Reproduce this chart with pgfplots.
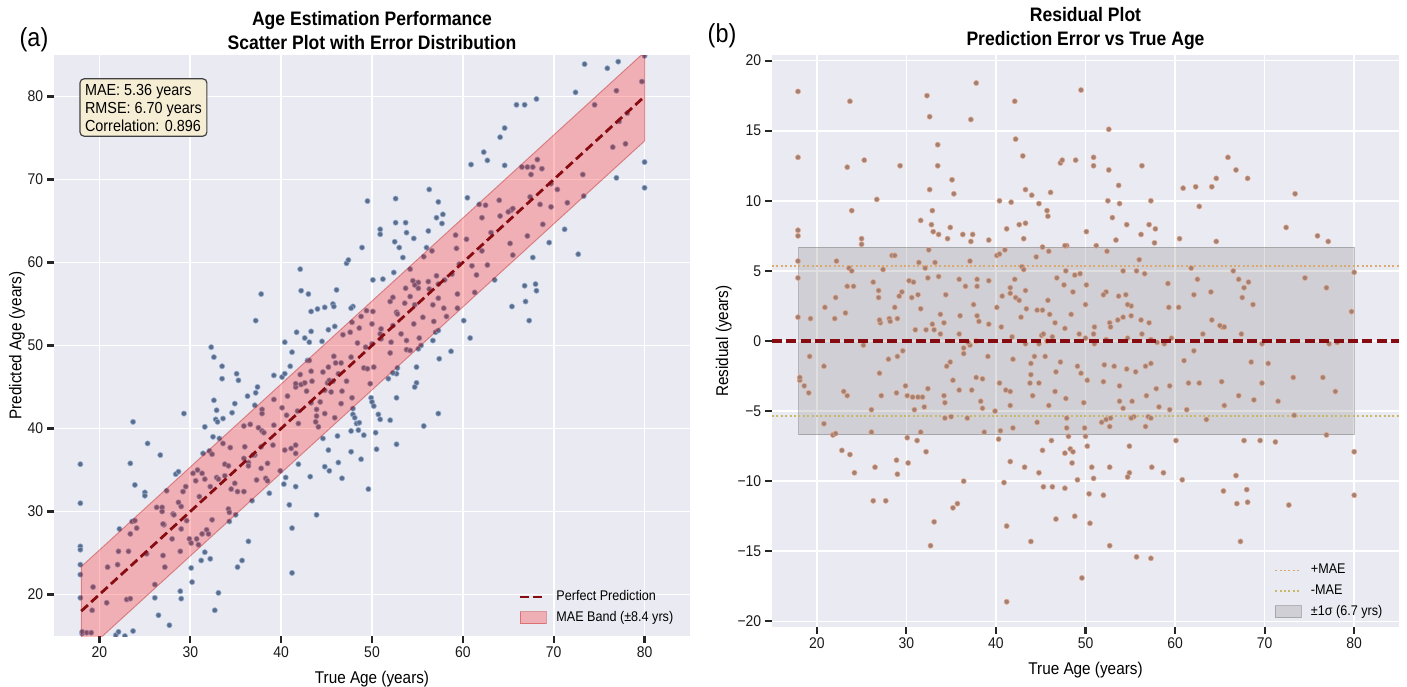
\documentclass[border=0pt]{standalone}
\usepackage{fontspec}
\setmainfont{Liberation Sans}[FakeStretch=0.9]
\usepackage{pgfplots}
\usepackage{pgfplotstable}
\usetikzlibrary{calc}
\pgfplotsset{compat=1.18}
\definecolor{bg}{RGB}{234,234,242}
\definecolor{dred}{RGB}{135,12,18}
\definecolor{ptA}{RGB}{92,108,136}
\definecolor{ptAe}{RGB}{140,170,210}
\definecolor{ptB}{RGB}{158,130,122}
\definecolor{ptBe}{RGB}{240,165,125}
\definecolor{maeP}{RGB}{218,170,110}
\definecolor{maeM}{RGB}{200,185,105}
\definecolor{boxfill}{RGB}{246,238,212}

\pgfplotstableread{
t r p
17.9 17.8 35.7
17.9 13.1 31.0
17.9 7.9 25.8
17.9 7.5 25.4
17.9 5.7 23.6
17.9 4.5 22.4
17.9 1.7 19.6
19.3 1.6 20.9
22.2 5.7 27.9
20.9 2.4 23.3
22.1 3.1 25.2
22.0 1.6 23.6
23.2 2.0 25.2
23.7 17.1 40.8
23.4 12.4 35.8
23.9 9.3 33.2
25.3 12.9 38.2
25.0 7.3 32.3
25.0 6.9 31.9
23.6 5.2 28.8
23.9 5.0 28.9
23.4 3.9 27.3
24.1 3.9 28.0
26.3 4.2 30.5
26.7 10.1 36.8
26.9 3.6 30.5
26.9 3.1 30.0
27.4 5.1 32.5
27.1 1.3 28.4
28.1 1.6 29.7
29.0 1.6 30.6
28.4 6.1 34.5
28.7 6.1 34.8
28.7 2.4 31.1
29.3 12.5 41.8
29.5 3.5 33.0
29.2 3.2 32.4
30.3 4.3 34.6
30.6 3.1 33.7
30.8 4.2 35.0
31.3 3.3 34.6
31.6 8.6 40.2
31.6 2.3 33.9
31.4 5.6 37.0
32.1 5.2 37.3
32.3 17.5 49.8
32.6 16.0 48.6
32.6 10.8 43.4
32.9 9.3 42.2
32.8 8.3 41.1
33.0 7.8 40.8
33.5 14.0 47.5
33.5 12.5 46.0
33.6 7.6 41.2
34.6 7.3 41.9
34.9 8.1 43.0
35.1 11.5 46.6
35.3 10.5 45.8
32.5 6.5 39.0
32.4 4.5 36.9
33.2 5.6 38.8
33.6 4.6 38.2
33.8 1.9 35.7
34.4 3.3 37.7
34.2 1.3 35.5
32.9 1.2 34.1
35.9 4.4 40.3
36.0 1.8 37.8
36.3 7.6 43.9
36.6 3.9 40.5
37.1 5.7 42.8
37.2 7.1 44.3
37.4 7.6 45.0
37.2 15.8 53.0
37.8 18.4 56.2
37.5 2.6 40.1
37.9 4.4 42.3
37.9 3.9 41.8
37.9 1.8 39.7
38.1 1.4 39.5
39.2 4.3 43.5
39.2 7.2 46.4
40.1 6.1 46.2
40.4 6.2 46.6
41.0 6.5 47.5
40.4 10.0 50.4
41.7 9.9 51.6
41.2 8.0 49.2
40.1 2.4 42.5
40.7 3.2 43.9
41.6 3.4 45.0
42.1 17.1 59.2
42.2 14.4 56.6
43.0 13.2 56.2
42.6 8.3 50.9
43.3 8.4 51.7
43.1 7.3 50.4
43.3 10.8 54.1
44.0 10.4 54.4
44.8 9.8 54.6
45.7 9.3 55.0
45.8 8.9 54.7
46.1 10.6 56.7
47.2 12.7 59.9
47.4 12.9 60.3
48.9 12.9 61.8
49.5 17.9 67.4
42.1 4.4 46.5
41.6 3.8 45.4
42.2 3.1 45.3
42.6 2.9 45.5
42.9 5.3 48.2
43.1 5.1 48.2
43.3 3.6 46.9
43.4 2.3 45.7
42.8 1.7 44.5
44.6 2.2 46.8
45.2 2.2 47.4
44.5 6.0 50.5
45.2 6.7 51.9
45.9 6.4 52.3
45.8 2.9 48.7
46.0 1.9 47.9
46.6 1.3 47.9
46.8 4.5 51.3
47.6 4.0 51.6
47.9 6.8 54.7
48.4 1.9 50.3
48.6 3.5 52.1
48.8 4.7 53.5
52.6 15.1 67.7
50.9 13.1 64.0
50.9 12.5 63.4
52.6 12.2 64.8
56.3 12.5 68.8
53.7 11.1 64.8
53.8 9.8 63.6
52.5 10.0 62.5
57.3 10.0 67.3
53.0 8.8 61.8
54.6 8.3 62.9
57.1 8.3 65.4
57.8 8.0 65.8
56.2 7.6 63.8
57.7 7.0 64.7
53.4 7.2 60.6
50.1 7.8 57.9
51.2 6.8 58.0
52.4 6.4 58.8
47.7 6.8 54.5
56.0 5.8 61.8
60.9 10.9 71.8
62.3 11.0 73.3
64.1 11.0 75.1
64.6 11.6 76.2
65.9 13.1 79.0
66.8 12.2 79.0
68.1 11.6 79.7
62.7 9.6 72.3
60.5 7.3 67.8
64.6 7.1 71.7
73.4 10.5 83.9
72.4 8.1 80.5
75.9 7.5 83.4
77.1 7.1 84.2
80.0 4.9 84.9
79.7 2.1 81.8
74.5 4.5 79.0
76.9 3.8 80.7
68.7 2.6 71.3
67.7 3.8 71.5
68.2 4.2 72.4
67.5 3.1 70.6
67.1 4.4 71.5
66.5 5.0 71.5
64.0 3.5 67.5
64.1 1.5 65.6
65.3 1.0 66.3
62.5 4.4 66.9
62.1 3.3 65.4
61.8 5.2 67.0
60.4 2.4 62.8
59.3 2.4 61.7
59.2 4.1 63.3
57.1 1.3 58.4
56.2 1.5 57.7
55.1 1.8 56.9
54.2 1.7 55.9
53.6 1.5 55.1
52.7 1.3 54.0
55.1 2.5 57.6
54.7 2.6 57.3
53.7 3.2 56.9
54.5 3.3 57.8
52.3 3.5 55.8
52.0 3.3 55.3
50.0 2.6 52.6
50.1 4.0 54.1
54.2 5.0 59.2
55.7 5.0 60.7
56.6 4.8 61.4
49.4 4.8 54.2
47.8 5.0 52.8
51.0 1.0 52.0
18.1 -2.8 15.3
18.1 -2.6 15.5
18.6 -3.2 15.4
19.1 -3.7 15.4
19.2 -1.1 18.1
20.8 -1.8 19.0
23.0 -3.6 19.4
23.4 -3.9 19.5
20.8 -5.9 14.9
21.8 -6.7 15.1
22.1 -6.6 15.5
22.8 -7.8 15.0
23.7 -8.1 15.6
24.2 -9.4 14.8
25.2 -0.3 24.9
26.1 -4.9 21.2
26.1 -6.5 19.6
26.5 -9.0 17.5
26.3 -11.4 14.9
27.7 -11.4 16.3
27.0 -2.3 24.7
27.2 -3.9 23.3
28.0 -1.3 26.7
29.0 -1.1 27.9
29.6 -0.7 28.9
28.9 -3.7 25.2
29.9 -3.2 26.7
30.1 -3.9 26.2
30.7 -4.0 26.7
31.3 -4.0 27.3
31.8 -4.0 27.8
32.4 -3.4 29.0
30.9 -4.9 26.0
32.0 -4.7 27.3
30.1 -6.9 23.2
31.2 -7.1 24.1
31.6 -6.5 25.1
32.2 -7.9 24.3
28.9 -8.5 20.4
29.0 -9.5 19.5
30.2 -8.7 21.5
33.1 -12.9 20.2
32.7 -14.6 18.1
34.3 -5.5 28.8
34.5 -1.8 32.7
34.9 -1.5 33.4
34.2 -3.9 30.3
34.3 -4.4 29.9
35.2 -2.8 32.4
35.9 -3.5 32.4
35.0 -5.4 29.6
35.9 0.5 36.4
36.4 -0.5 35.9
36.4 -0.9 35.5
36.8 -5.5 31.3
36.4 -10.0 26.4
35.2 -11.9 23.3
35.7 -11.6 24.1
37.8 -2.6 35.2
38.5 -2.7 35.8
38.3 -4.3 34.0
38.7 -6.5 32.2
39.1 -1.1 38.0
39.9 -5.0 34.9
40.4 -3.0 37.4
40.3 -7.0 33.3
40.9 -10.1 30.8
40.5 -6.4 34.1
41.1 -3.5 37.6
41.6 -3.6 38.0
41.6 -4.6 37.0
41.9 -6.2 35.7
41.6 -8.6 33.0
41.2 -13.2 28.0
41.2 -18.6 22.6
41.9 -1.3 40.6
43.2 -9.0 34.2
43.9 -1.6 42.3
43.9 -2.4 41.5
44.1 -3.9 40.2
43.8 -3.0 40.8
43.9 -14.3 29.6
44.3 -1.1 43.2
44.8 -3.0 41.8
44.6 -5.8 38.8
44.8 -9.4 35.4
45.2 -7.8 37.4
45.3 -10.4 34.9
45.5 -1.1 44.4
45.9 -4.6 41.3
46.2 -7.1 39.1
46.3 -10.4 35.9
46.6 -3.6 43.0
46.7 -12.7 34.0
46.7 -2.2 44.5
47.2 -1.5 45.7
47.7 -10.5 37.2
47.8 -4.1 43.7
47.7 -8.0 39.7
47.9 -6.2 41.7
47.9 -5.5 42.4
48.1 -6.8 41.3
48.3 -7.7 40.6
48.6 -7.9 40.7
48.8 -12.5 36.3
48.5 -8.7 39.8
49.1 -9.9 39.2
49.1 -1.8 47.3
49.5 -2.3 47.2
49.6 -16.9 32.7
49.8 -4.4 45.4
49.9 -6.2 43.7
50.0 -6.8 43.2
50.2 -7.5 42.7
50.2 -2.8 47.4
50.4 -10.9 39.5
50.5 -13.0 37.5
50.7 -9.0 41.7
50.9 -9.8 41.1
50.9 0.5 51.4
52.0 -11.0 41.0
52.0 -2.9 49.1
52.1 -1.7 50.4
52.7 -9.0 43.7
52.7 -14.6 38.1
52.8 -5.5 47.3
52.7 -6.1 46.6
53.2 -1.8 51.4
53.8 -3.2 50.6
53.8 -4.3 49.5
54.2 -4.8 49.4
54.6 -2.0 52.6
54.9 -7.5 47.4
55.2 -4.3 50.9
54.9 -9.4 45.5
54.7 -9.7 45.0
55.4 -5.4 50.0
55.6 -2.2 53.4
55.7 -15.4 40.3
56.3 0.5 56.8
56.7 -1.8 54.9
56.8 -3.9 52.9
57.0 -5.4 51.6
57.3 -1.6 55.7
57.3 -15.5 41.8
57.4 -9.0 48.4
56.7 -6.1 50.6
57.3 -5.5 51.8
57.9 -3.4 54.5
58.2 -4.7 53.5
58.7 -9.4 49.3
59.4 -3.2 56.2
59.4 -4.9 54.5
60.1 -7.1 53.0
61.0 -1.4 59.6
60.8 -9.9 50.9
61.3 -4.9 56.4
61.5 -3.0 58.5
62.1 -0.7 61.4
62.7 -3.0 59.7
63.5 -5.6 57.9
65.2 -2.9 62.3
65.5 -4.6 60.9
65.4 -10.7 54.7
66.9 -11.6 55.3
66.8 -9.6 57.2
67.1 -3.9 63.2
67.3 -14.3 53.0
67.7 -7.1 60.6
68.0 -10.6 57.4
68.1 -11.5 56.6
68.5 -1.5 67.0
68.8 -4.2 64.6
69.5 -7.1 62.4
69.7 -3.0 66.7
70.4 -1.6 68.8
71.2 -7.2 64.0
71.5 -4.3 67.2
72.7 -11.7 61.0
73.2 -2.6 70.6
73.3 -5.3 68.0
76.5 -2.6 73.9
76.9 -6.7 70.2
77.9 -3.6 74.3
80.0 -7.9 72.1
80.0 -11.0 69.0
78.1 -0.1 78.0
77.2 -0.2 77.0
69.7 -0.2 69.5
58.8 -0.2 58.6
58.0 -0.1 57.9
57.3 0.1 57.4
52.3 0.1 52.4
51.0 -0.2 50.8
50.0 0.2 50.2
49.3 0.5 49.8
46.3 0.3 46.6
45.7 0.0 45.7
45.1 0.4 45.5
44.8 -0.2 44.6
43.3 -0.2 43.1
41.8 0.3 42.1
37.8 0.0 37.8
37.1 -0.3 36.8
36.9 -0.1 36.8
33.8 0.5 34.3
33.1 0.8 33.9
32.2 0.8 33.0
31.0 0.8 31.8
27.0 1.5 28.5
28.2 1.4 29.6
65.0 1.1 66.1
65.5 1.0 66.5
67.4 0.5 67.9
63.1 0.5 63.6
59.6 0.2 59.8
54.7 0.2 54.9
52.8 1.0 53.8
40.6 1.0 41.6
39.2 1.2 40.4
45.3 0.5 45.8
47.7 0.9 48.6
37.3 -3.5 33.8
38.5 -4.8 33.7
51.8 -5.8 46.0
52.3 -5.6 46.7
55.1 -5.5 49.6
}\agedata

\tikzset{tickmk/.style={draw=black!85, line width=1.1pt}}
\pgfplotsset{
  lineleg/.style={legend image code/.code={\draw[##1] (0pt,0pt) -- (13pt,0pt); \path (15.5pt,0pt);}},
  boxleg/.style={legend image code/.code={\draw[##1] (0pt,-2.8pt) rectangle (13pt,3.2pt); \path (15.5pt,0pt);}},
  sbaxis/.style={
    scale only axis,
    axis background/.style={fill=bg},
    axis line style={draw=none},
    grid=major,
    major grid style={white, line width=0.8pt},
    tick pos=left,
    tick align=outside,
    major tick length=3pt,
    tick style={draw=black!85, line width=1.1pt},
    /pgf/number format/assume math mode=true,
    ticklabel style={font=\fontsize{7.75}{9}\selectfont, text=black!90},
    xticklabel style={inner sep=2.3pt},
    yticklabel style={inner sep=2.2pt},
    label style={font=\fontsize{8.5}{10}\selectfont},
    xlabel style={inner sep=0pt, yshift=-4pt},
    title style={font=\bfseries\fontsize{9.75}{12}\selectfont, align=center, yshift=-7pt},
    xmin=15, xmax=85,
    xtick={20,30,...,80},
    clip marker paths=true,
    legend style={draw=none, fill=none, font=\fontsize{7}{8.5}\selectfont,
      legend cell align=left, row sep=0pt},
  },
}

\begin{document}
\begin{tikzpicture}
\useasboundingbox (0,0) rectangle (703.5pt,343pt);

% ---------------- (a) ----------------
\begin{axis}[sbaxis, name=A,
  at={(27pt,25pt)}, anchor=south west,
  width=318pt, height=290.5pt,
  ymin=15, ymax=85,
  ytick={20,30,...,80},
  xlabel={True Age (years)},
  ylabel={Predicted Age (years)},
  ylabel style={inner sep=0pt, yshift=-1pt},
  title={Age Estimation Performance\\Scatter Plot with Error Distribution},
  legend style={at={(0.99,0.005)}, anchor=south east},
]
\addplot[only marks, mark=*, mark size=1.3pt,
  mark options={fill=ptA, draw=ptAe, line width=0.3pt}, forget plot]
  table[x=t, y=p] {\agedata};
\addplot[fill=red, fill opacity=0.25, draw=red!70!black, draw opacity=0.35,
  line width=0.5pt, forget plot]
  coordinates {(18,12.64) (80,74.64) (80,85.36) (18,23.36)} -- cycle;
\addplot[dred, line width=1.4pt, dash pattern=on 4.5pt off 2.2pt, forget plot]
  coordinates {(18,18) (80,80)};
\node[anchor=north west, draw=black!75, line width=0.6pt, rounded corners=2pt,
  fill=boxfill, align=left, inner sep=2.5pt,
  font=\fontsize{8}{9}\selectfont]
  at (rel axis cs:0.04,0.96) {MAE: 5.36 years\\RMSE: 6.70 years\\Correlation: 0.896};
\addlegendimage{dred, line width=1.4pt, dash pattern=on 4.5pt off 2.2pt, lineleg}
\addlegendentry{Perfect Prediction}
\addlegendimage{fill=red, fill opacity=0.25, draw=red!70!black, draw opacity=0.35, boxleg}
\addlegendentry{MAE Band (\textpm8.4 yrs)}
\end{axis}

% ---------------- (b) ----------------
\begin{axis}[sbaxis, name=B,
  at={(386pt,29.5pt)}, anchor=south west,
  width=313.5pt, height=286pt,
  ymin=-20.4, ymax=20.4,
  ytick={-20,-15,-10,-5,0,5,10,15,20},
  yticklabels={−20,−15,−10,−5,0,5,10,15,20},
  xlabel={True Age (years)},
  ylabel={Residual (years)},
  ylabel style={inner sep=0pt, yshift=0.5pt},
  title={Residual Plot\\Prediction Error vs True Age},
  legend style={at={(0.99,0.0)}, anchor=south east},
]
\addplot[fill=gray, fill opacity=0.25, draw=gray, draw opacity=0.5,
  line width=0.5pt, forget plot]
  coordinates {(18,-6.7) (80,-6.7) (80,6.7) (18,6.7)} -- cycle;
\addplot[maeP, line width=0.8pt, dash pattern=on 1pt off 1.2pt, forget plot]
  coordinates {(15,5.36) (85,5.36)};
\addplot[maeM, line width=0.8pt, dash pattern=on 1pt off 1.2pt, forget plot]
  coordinates {(15,-5.36) (85,-5.36)};
\addplot[only marks, mark=*, mark size=1.3pt,
  mark options={fill=ptB, draw=ptBe, line width=0.25pt}, forget plot]
  table[x=t, y=r] {\agedata};
\addplot[dred, line width=1.6pt, dash pattern=on 5pt off 2.2pt, forget plot]
  coordinates {(15,0) (85,0)};
\addlegendimage{maeP, line width=0.8pt, dash pattern=on 1pt off 1.2pt, lineleg}
\addlegendentry{+MAE}
\addlegendimage{maeM, line width=0.8pt, dash pattern=on 1pt off 1.2pt, lineleg}
\addlegendentry{-MAE}
\addlegendimage{fill=gray, fill opacity=0.25, draw=gray, draw opacity=0.5, boxleg}
\addlegendentry{\textpm1σ (6.7 yrs)}
\end{axis}

% tick marks at the axis frame
\foreach \v in {20,30,...,80} {
  \draw[tickmk] ($(A.south west)!{(\v-15)/70}!(A.south east)$) ++(0,-0.5pt) -- ++(0,-3pt);
  \draw[tickmk] ($(A.south west)!{(\v-15)/70}!(A.north west)$) ++(-0.5pt,0) -- ++(-3pt,0);
  \draw[tickmk] ($(B.south west)!{(\v-15)/70}!(B.south east)$) ++(0,-0.5pt) -- ++(0,-3pt);
}
\foreach \v in {-20,-15,...,20} {
  \draw[tickmk] ($(B.south west)!{(\v+20.4)/40.8}!(B.north west)$) ++(-0.5pt,0) -- ++(-3pt,0);
}

\node[font=\fontsize{13}{15}\selectfont] at (17pt,323pt) {(a)};
\node[font=\fontsize{13}{15}\selectfont] at (361pt,325pt) {(b)};
\end{tikzpicture}
\end{document}
